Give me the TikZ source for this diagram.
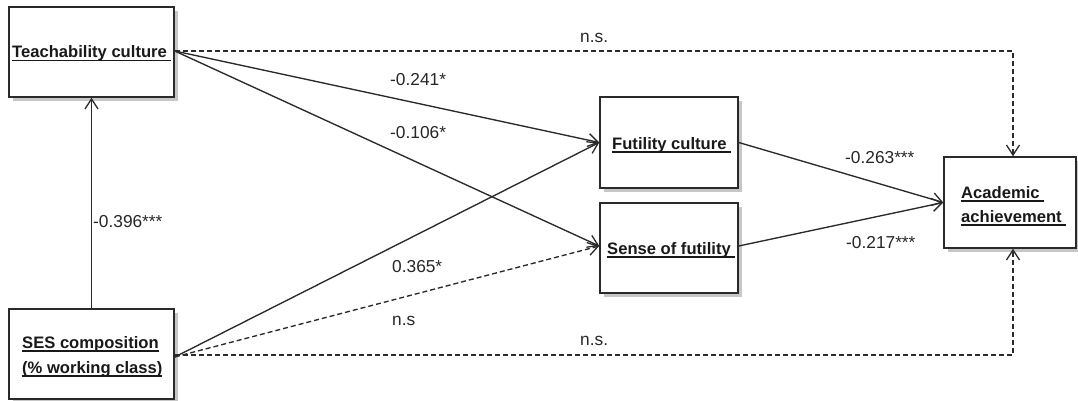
\documentclass[tikz,border=0pt]{standalone}
\usepackage{fontspec}
\setmainfont{Liberation Sans}
\usetikzlibrary{arrows.meta,shadows}
\newcommand\myul[1]{\setbox0\hbox{#1}\rlap{\rule[-3.5pt]{\wd0}{1.5pt}}\box0}
\definecolor{ln}{HTML}{2a2a2a}
\begin{document}
\begin{tikzpicture}[x=1pt,y=-1pt,
  box/.style={draw=ln,line width=1.5pt,fill=white,rectangle,inner sep=0pt,
    drop shadow={shadow xshift=4pt,shadow yshift=-4pt,fill=black!22,opacity=1}},
  btext/.style={anchor=base west,inner sep=0pt,font=\fontsize{16.6}{19}\selectfont\bfseries,text=black!90},
  lab/.style={anchor=base west,inner sep=0pt,font=\fontsize{17.3}{19}\selectfont,text=black!85},
  conn/.style={draw=ln,line width=1.35pt,-{Straight Barb[length=10pt,width=13pt,line width=1.3pt]}},
  dsh/.style={dash pattern=on 5pt off 3pt}]
\useasboundingbox (0,0) rectangle (1078,401);
% boxes
\node[box,minimum width=165pt,minimum height=90pt] (teach) at (91.5,52) {};
\node[box,minimum width=165pt,minimum height=90pt] (ses) at (91.5,354) {};
\node[box,minimum width=138pt,minimum height=91pt] (fut) at (669,142.5) {};
\node[box,minimum width=138pt,minimum height=90pt] (sense) at (669,248) {};
\node[box,minimum width=132pt,minimum height=91pt] (acad) at (1010,202.5) {};
% box texts
\node[btext] (tteach) at (12,58) {\myul{Teachability culture\ }};
\node[btext] (tses1) at (22,348) {\myul{SES composition}};
\node[btext] (tses2) at (22,373) {\myul{(\% working class)}};
\node[btext] (tfut) at (612,149) {\myul{Futility culture\ }};
\node[btext] (tsense) at (607,254) {\myul{Sense of futility\ }};
\node[btext] (tacad1) at (961,198) {\myul{Academic\ }};
\node[btext] (tacad2) at (961,222) {\myul{achievement\ }};
% connectors
\draw[conn] (ses.north) -- (teach.south);
\draw[conn,dsh] ([yshift=1pt]teach.east) -| ([xshift=3pt]acad.north);
\draw[conn] ([yshift=1pt]teach.east) -- (fut.west);
\draw[conn] ([yshift=1pt]teach.east) -- ([yshift=2pt]sense.west);
\draw[conn] ([yshift=-3pt]ses.east) -- (fut.west);
\draw[conn,dsh] ([yshift=-3pt]ses.east) -- ([yshift=2pt]sense.west);
\draw[conn,dsh] ([yshift=-1pt]ses.east) -| ([xshift=3pt]acad.south);
\draw[conn] (fut.east) -- (acad.west);
\draw[conn] ([yshift=2pt]sense.east) -- (acad.west);
% labels
\node[lab] (l1) at (93,227) {-0.396***};
\node[lab] (l2) at (390,86) {-0.241*};
\node[lab] (l3) at (390,139) {-0.106*};
\node[lab] (l4) at (392,272) {0.365*};
\node[lab] (l5) at (392,325) {n.s};
\node[lab] (l6) at (580,43) {n.s.};
\node[lab] (l7) at (580,345) {n.s.};
\node[lab] (l8) at (845,163) {-0.263***};
\node[lab] (l9) at (846,248) {-0.217***};
\end{tikzpicture}
\end{document}
